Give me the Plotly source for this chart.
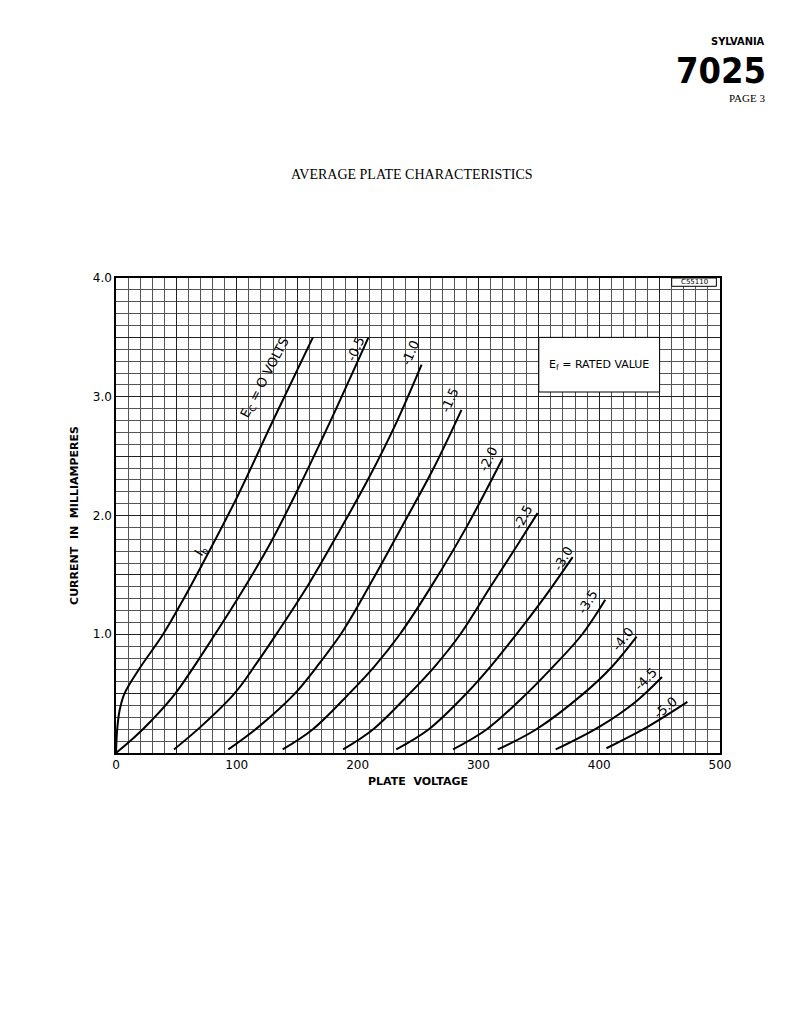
import plotly.graph_objects as go

grid_labels = ["E<sub>C</sub> = O VOLTS", "-0.5", "-1.0", "-1.5", "-2.0", "-2.5", "-3.0", "-3.5", "-4.0", "-4.5", "-5.0"]
curve_x = [
    [0, 1, 3, 7, 20, 39, 55, 72, 100, 130, 163],
    [0, 15, 30, 49, 82, 105, 128, 152, 180, 209],
    [48, 70, 98, 116, 134, 160, 185, 210, 232, 253],
    [93, 118, 148, 168, 188, 212, 238, 263, 286],
    [138, 163, 193, 214, 235, 262, 290, 320],
    [188, 213, 243, 264, 285, 310, 331, 349],
    [232, 259, 290, 311, 333, 356, 378],
    [279, 307, 340, 364, 386, 405],
    [316, 348, 387, 410, 431],
    [364, 400, 430, 452],
    [406, 440, 473],
]
curve_y = [
    [0, 0.2, 0.36, 0.5, 0.72, 1.0, 1.28, 1.6, 2.15, 2.8, 3.5],
    [0, 0.13, 0.28, 0.5, 1.0, 1.37, 1.77, 2.25, 2.85, 3.5],
    [0.03, 0.22, 0.5, 0.75, 1.02, 1.43, 1.87, 2.33, 2.78, 3.27],
    [0.03, 0.22, 0.5, 0.75, 1.03, 1.45, 1.93, 2.4, 2.89],
    [0.03, 0.2, 0.5, 0.73, 1.0, 1.42, 1.9, 2.48],
    [0.03, 0.2, 0.5, 0.73, 1.0, 1.4, 1.73, 2.02],
    [0.03, 0.2, 0.5, 0.74, 1.02, 1.33, 1.65],
    [0.03, 0.2, 0.5, 0.75, 1.0, 1.29],
    [0.03, 0.2, 0.5, 0.72, 0.98],
    [0.03, 0.22, 0.43, 0.64],
    [0.04, 0.22, 0.43],
]
label_x = [124, 198, 244, 276, 308, 337, 370, 390, 419, 438, 455]
label_y = [3.16, 3.4, 3.37, 2.97, 2.47, 1.98, 1.64, 1.27, 0.96, 0.62, 0.38]
label_angle = [-62, -66, -66, -66, -64, -62, -60, -58, -52, -45, -40]

fig = go.Figure()
for xs, ys in zip(curve_x, curve_y):
    fig.add_trace(go.Scatter(x=xs, y=ys, mode="lines", line=dict(color="black", width=2, shape="spline", smoothing=1.0),
                             hoverinfo="skip", showlegend=False))

font = "DejaVu Sans"
for t, x, y, a in zip(grid_labels, label_x, label_y, label_angle):
    fig.add_annotation(x=x, y=y, text=t, textangle=a, showarrow=False, font=dict(family=font, size=13, color="black"))
fig.add_annotation(x=70, y=1.7, text="I<sub>b</sub>", textangle=-58, showarrow=False, font=dict(family=font, size=13, color="black"))

fig.add_shape(type="rect", x0=350, x1=450, y0=3.04, y1=3.5, fillcolor="white", line=dict(color="black", width=1))
fig.add_annotation(x=400, y=3.27, text="E<sub>f</sub> = RATED VALUE", showarrow=False, font=dict(family=font, size=11, color="black"))
fig.add_shape(type="rect", x0=460, x1=497, y0=3.93, y1=4.0, fillcolor="white", line=dict(color="black", width=1))
fig.add_annotation(x=478.5, y=3.965, text="C55110", showarrow=False, font=dict(family=font, size=7, color="black"))

# page header
fig.add_annotation(xref="paper", yref="paper", x=1.077, y=1.497, xanchor="right", yanchor="middle", text="<b>SYLVANIA</b>", showarrow=False,
                   font=dict(family="DejaVu Sans Condensed, Liberation Sans Narrow", size=11, color="black"))
fig.add_annotation(xref="paper", yref="paper", x=1.08, y=1.436, xanchor="right", yanchor="middle", text="<b>7025</b>", showarrow=False,
                   font=dict(family="DejaVu Sans Condensed, Liberation Sans Narrow", size=36, color="black"))
fig.add_annotation(xref="paper", yref="paper", x=1.077, y=1.379, xanchor="right", yanchor="middle", text="PAGE 3", showarrow=False,
                   font=dict(family="Liberation Serif", size=11, color="black"))
fig.add_annotation(xref="paper", yref="paper", x=0.49, y=1.217, yanchor="middle", text="AVERAGE PLATE CHARACTERISTICS", showarrow=False,
                   font=dict(family="Liberation Serif", size=14, color="black"))

fig.update_xaxes(range=[0, 500], tickvals=list(range(0, 501, 50)), automargin=False,
                 ticktext=["0", "", "100", "", "200", "", "300", "", "400", "", "500"],
                 showgrid=True, gridcolor="#222", gridwidth=1.3,
                 minor=dict(dtick=10, showgrid=True, gridcolor="#555", gridwidth=0.7),
                 showline=True, linecolor="black", linewidth=1.5, mirror=True, zeroline=False, ticks="",
                 tickfont=dict(family=font, size=12, color="black"),
                 title=dict(text="<b>PLATE  VOLTAGE</b>", font=dict(family=font, size=11, color="black"), standoff=6))
fig.update_yaxes(range=[0, 4], tickvals=[0.5, 1, 1.5, 2, 2.5, 3, 3.5, 4], automargin=False,
                 ticktext=["", "1.0", "", "2.0", "", "3.0", "", "4.0"],
                 showgrid=True, gridcolor="#222", gridwidth=1.3,
                 minor=dict(dtick=0.1, showgrid=True, gridcolor="#555", gridwidth=0.7),
                 showline=True, linecolor="black", linewidth=1.5, mirror=True, zeroline=False, ticks="",
                 tickfont=dict(family=font, size=12, color="black"),
                 title=dict(text="<b>CURRENT  IN  MILLIAMPERES</b>", font=dict(family=font, size=11, color="black"), standoff=12))

fig.update_layout(width=799, height=1035, margin=dict(l=108, r=87, t=270, b=290),
                  plot_bgcolor="white", paper_bgcolor="white", showlegend=False)
fig.write_html("out.html")
